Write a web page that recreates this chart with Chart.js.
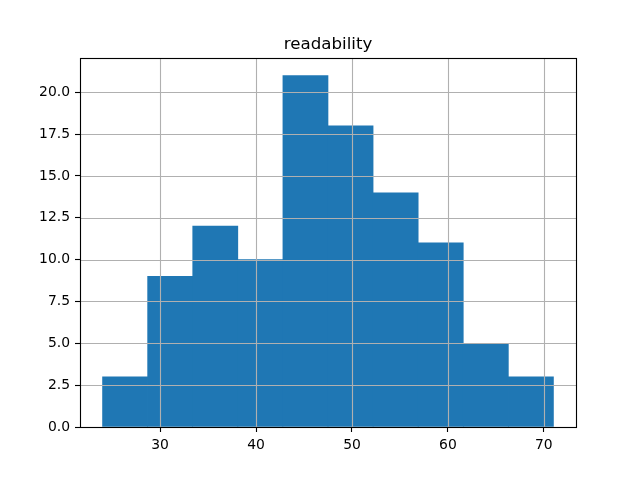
<!DOCTYPE html>
<html>
<head>
<meta charset="utf-8">
<script src="https://cdn.jsdelivr.net/npm/chart.js@4/dist/chart.umd.min.js"></script>
<style>
html,body{margin:0;padding:0;background:#fff;}
#wrap{width:640px;height:480px;}
</style>
</head>
<body>
<div id="wrap"><canvas id="c" width="640" height="480"></canvas></div>
<script>
// Histogram of "readability"
const binEdges = [24.0, 28.7, 33.4, 38.1, 42.8, 47.5, 52.2, 56.9, 61.6, 66.3, 71.0];
const counts   = [3, 9, 12, 10, 21, 18, 14, 11, 5, 3];
const xTicks   = [30, 40, 50, 60, 70];
const yTicks   = [0, 2.5, 5, 7.5, 10, 12.5, 15, 17.5, 20];
const title    = 'readability';

const points = counts.map((c, i) => ({ x: (binEdges[i] + binEdges[i + 1]) / 2, y: c }));
const span = binEdges[binEdges.length - 1] - binEdges[0];
const xMin = binEdges[0] - span * 0.05;
const xMax = binEdges[binEdges.length - 1] + span * 0.05;
const yMax = Math.max(...counts) * 1.05;

const LW = 0.8 * 100 / 72;
const FONT = 'DejaVu Sans';

const overlay = {
  id: 'overlay',
  afterDatasetsDraw(chart) {
    const { ctx, chartArea: a, scales: { x, y } } = chart;
    ctx.save();
    ctx.strokeStyle = '#b0b0b0';
    ctx.lineWidth = LW;
    xTicks.forEach(v => {
      const px = Math.round(x.getPixelForValue(v)) + 0.5;
      ctx.beginPath(); ctx.moveTo(px, a.top); ctx.lineTo(px, a.bottom); ctx.stroke();
    });
    yTicks.forEach(v => {
      const py = Math.round(y.getPixelForValue(v)) + 0.5;
      ctx.beginPath(); ctx.moveTo(a.left, py); ctx.lineTo(a.right, py); ctx.stroke();
    });
    ctx.strokeStyle = '#000';
    ctx.lineWidth = LW;
    ctx.strokeRect(Math.round(a.left) + 0.5, Math.round(a.top) + 0.5,
                   Math.round(a.right - a.left), Math.round(a.bottom - a.top));
    ctx.restore();
  }
};

new Chart(document.getElementById('c'), {
  type: 'bar',
  data: {
    datasets: [{
      data: points,
      backgroundColor: '#1f77b4',
      borderWidth: 0,
      barPercentage: 1.0,
      categoryPercentage: 1.0
    }]
  },
  options: {
    responsive: false,
    animation: false,
    devicePixelRatio: 1,
    layout: { padding: { left: 16, right: 0, top: 0, bottom: 0 } },
    plugins: {
      legend: { display: false },
      tooltip: { enabled: false },
      title: {
        display: true,
        text: title,
        color: '#000',
        font: { family: FONT, size: 16.67, weight: 'normal', lineHeight: 1.2 },
        padding: { top: 35, bottom: 3 }
      }
    },
    scales: {
      x: {
        type: 'linear',
        min: xMin,
        max: xMax,
        offset: false,
        grid: { display: true, offset: false, drawOnChartArea: false, drawTicks: true, tickLength: 5, tickColor: '#000', tickWidth: LW },
        border: { display: false },
        afterBuildTicks: s => { s.ticks = xTicks.map(v => ({ value: v })); },
        afterFit: s => { s.height = 53; },
        ticks: {
          color: '#000',
          padding: 5,
          maxRotation: 0,
          font: { family: FONT, size: 13.9 },
          callback: v => String(v)
        }
      },
      y: {
        type: 'linear',
        position: 'left',
        min: 0,
        max: yMax,
        grid: { display: true, drawOnChartArea: false, drawTicks: true, tickLength: 5, tickColor: '#000', tickWidth: LW },
        border: { display: false },
        afterBuildTicks: s => { s.ticks = yTicks.map(v => ({ value: v })); },
        afterFit: s => { s.width = 64; },
        ticks: {
          color: '#000',
          padding: 5,
          font: { family: FONT, size: 13.9 },
          callback: v => Number(v).toFixed(1)
        }
      },
      yRight: {
        type: 'linear',
        position: 'right',
        display: true,
        min: 0,
        max: yMax,
        grid: { display: false },
        border: { display: false },
        ticks: { display: false },
        afterFit: s => { s.width = 64; }
      }
    }
  },
  plugins: [overlay]
});
</script>
</body>
</html>
